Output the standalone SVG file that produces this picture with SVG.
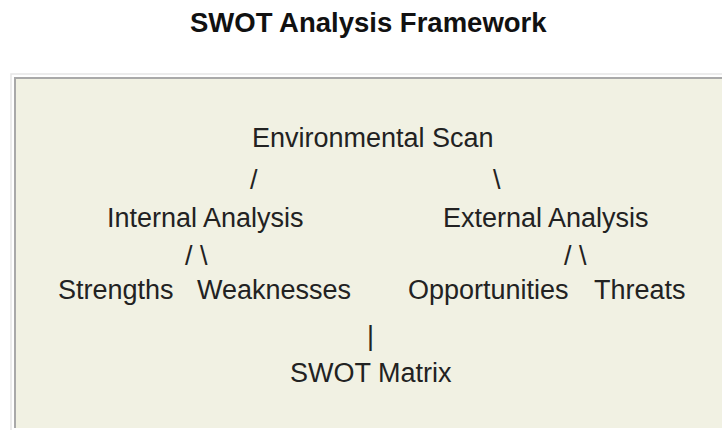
<svg xmlns="http://www.w3.org/2000/svg" width="722" height="430" viewBox="0 0 722 430">
  <style>
    .title { font-family: "Liberation Sans", Arial, sans-serif; font-size: 27.5px; font-weight: bold; fill: #111111; }
    .lbl { font-family: "Liberation Sans", Arial, sans-serif; font-size: 27px; fill: #222222; }
    .conn { font-family: "Liberation Sans", Arial, sans-serif; font-size: 27px; fill: #222222; }
    .edge { stroke: #a9a9a9; stroke-width: 2; fill: none; }
    .frame { stroke: #e6e6e6; stroke-width: 1.5; fill: none; }
  </style>
  <rect x="0" y="0" width="722" height="430" fill="#ffffff"/>
  <text class="title" x="190" y="32">SWOT Analysis Framework</text>
  <g id="panel">
    <path class="frame" d="M11 430 V74 H722"/>
    <rect x="15" y="78" width="710" height="350" fill="#f1f1e3"/>
    <path class="edge" d="M15 428 V78 H722"/>
  </g>
  <g id="node-environmental-scan"><text class="lbl" x="252" y="147">Environmental Scan</text></g>
  <g id="node-internal-analysis"><text class="lbl" x="107" y="227">Internal Analysis</text></g>
  <g id="node-external-analysis"><text class="lbl" x="443" y="227">External Analysis</text></g>
  <g id="node-strengths"><text class="lbl" x="58" y="299">Strengths</text></g>
  <g id="node-weaknesses"><text class="lbl" x="197" y="299">Weaknesses</text></g>
  <g id="node-opportunities"><text class="lbl" x="408" y="299">Opportunities</text></g>
  <g id="node-threats"><text class="lbl" x="594" y="299">Threats</text></g>
  <g id="node-swot-matrix"><text class="lbl" x="290" y="382">SWOT Matrix</text></g>
  <g id="connectors">
    <text class="conn" x="250" y="189">/</text>
    <text class="conn" x="493" y="189">\</text>
    <text class="conn" x="185" y="265">/ \</text>
    <text class="conn" x="564" y="265">/ \</text>
    <text class="conn" x="367" y="345" font-size="21">|</text>
  </g>
</svg>
